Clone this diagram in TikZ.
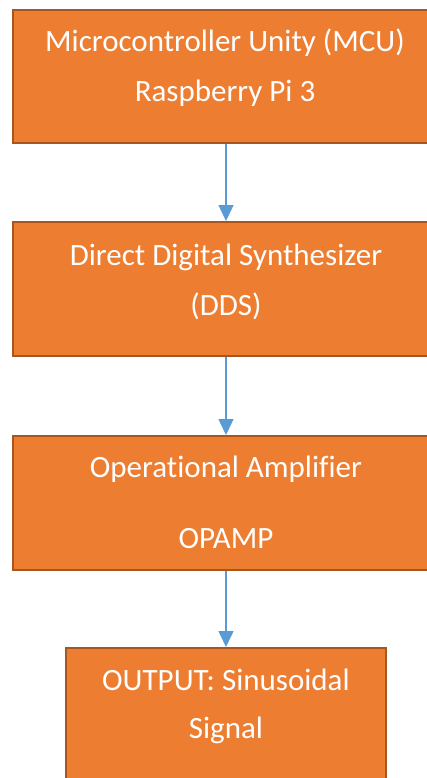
\documentclass[tikz,border=0pt]{standalone}
\usepackage{fontspec}
\setmainfont{Carlito}[Ligatures=NoCommon]
\usetikzlibrary{arrows.meta,positioning}
\definecolor{boxfill}{HTML}{ED7D31}
\definecolor{boxline}{HTML}{A85620}
\definecolor{flowblue}{HTML}{5B9BD5}

\begin{document}
\begin{tikzpicture}[x=1pt, y=-1pt,
  blk/.style={rectangle,draw=boxline,fill=boxfill,line width=2pt,inner sep=0pt,
    minimum width=426pt,minimum height=134pt},
  lbl/.style={text=white,align=center,inner sep=0pt,anchor=base},
  flow/.style={flowblue,line width=1.5pt,-{Triangle[width=15pt,length=16pt]}}]
  \useasboundingbox (0,0) rectangle (427,778);
  % blocks
  \node[blk,minimum height=133pt] (mcu) at (226,76.5) {};
  \node[blk] (dds) at (226,289) {};
  \node[blk] (opamp) at (226,503) {};
  \node[blk,minimum width=320pt] (out) at (226,715) {};
  % texts (base = last line)
  \node[lbl,font=\fontsize{31}{50}\selectfont] (mcutxt) at (225,102)
    {Microcontroller Unity (MCU)\\Raspberry Pi 3};
  \node[lbl,font=\fontsize{31}{50}\selectfont] (ddstxt) at (226,315)
    {Direct Digital Synthesizer\\(DDS)};
  \node[lbl,font=\fontsize{31}{71}\selectfont] (opamptxt) at (226,548)
    {Operational Amplifier\\OPAMP};
  \node[lbl,font=\fontsize{31}{48}\selectfont] (outtxt) at (226,738)
    {OUTPUT: Sinusoidal\\Signal};
  % connectors
  \draw[flow] (mcu) -- (dds);
  \draw[flow] (dds) -- (opamp);
  \draw[flow] (opamp) -- (out);
\end{tikzpicture}
\end{document}
